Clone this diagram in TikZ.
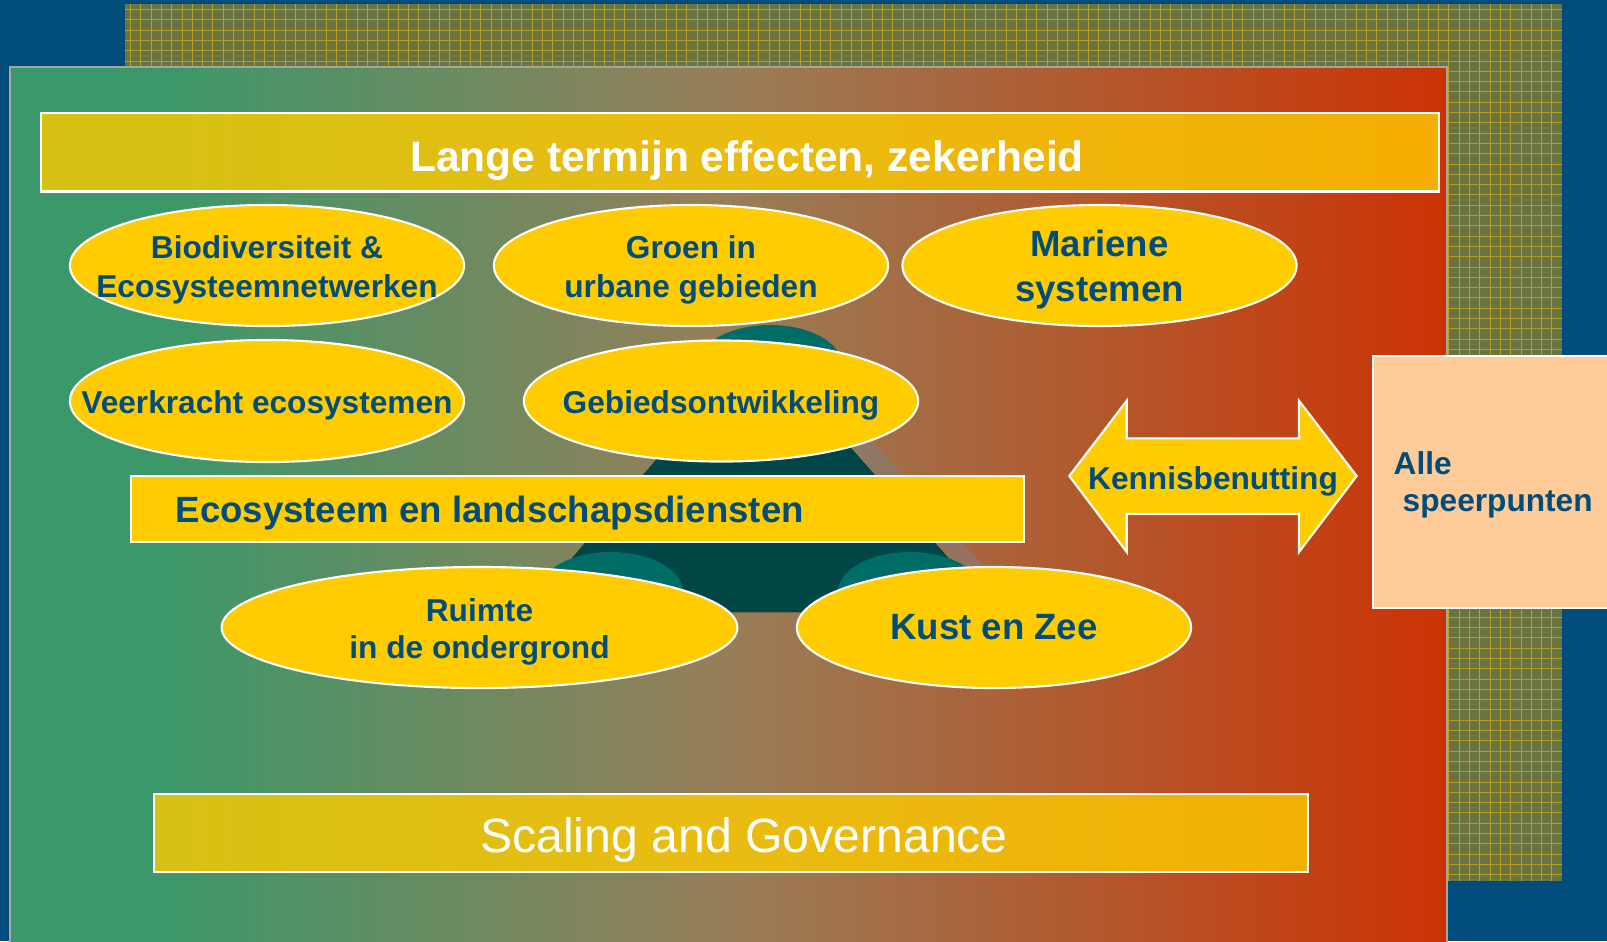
\documentclass[tikz,border=0pt]{standalone}
\usepackage{fontspec}
\setmainfont{Liberation Sans}
\usetikzlibrary{shapes.geometric}

\definecolor{deepblue}{RGB}{0,76,122}
\definecolor{mossgrid}{RGB}{106,116,62}
\definecolor{gridgold}{RGB}{180,160,40}
\definecolor{fieldgreen}{RGB}{58,152,106}
\definecolor{fieldbrown}{RGB}{152,126,88}
\definecolor{fieldred}{RGB}{204,51,4}
\definecolor{sunyellow}{RGB}{255,204,0}
\definecolor{peach}{RGB}{255,204,153}
\definecolor{tealdark}{RGB}{0,70,70}
\definecolor{teallight}{RGB}{0,108,102}
\definecolor{inkblue}{RGB}{0,76,122}
\definecolor{panelgray}{RGB}{165,165,165}

%green to red field behind the themes
\pgfdeclarehorizontalshading{fieldshade}{100bp}{color(0bp)=(fieldgreen); color(25bp)=(fieldgreen); color(30bp)=(fieldgreen); color(50bp)=(fieldbrown); color(75bp)=(fieldred); color(100bp)=(fieldred)}

\begin{document}
\begin{tikzpicture}[x=0.01cm, y=-0.01cm,
	theme/.style={ellipse, draw=white, line width=0.6pt, fill=sunyellow, inner sep=0pt, minimum width=3.94cm, minimum height=1.21cm},
	themetext/.style={text=inkblue, font=\bfseries\fontsize{9}{11.1}\selectfont, align=center, inner sep=0pt},
	bigtext/.style={themetext, font=\bfseries\fontsize{10.4}{12.6}\selectfont},
	banner/.style={draw=white, line width=0.6pt, fill=sunyellow, fill opacity=0.8, inner sep=0pt},
	bannertext/.style={text=white, inner sep=0pt, anchor=base}]

		%background
		\useasboundingbox (0,0) rectangle (1607,941);
		\fill[deepblue] (0,0) rectangle (1607,941);

		%hatched back panel
		\fill[mossgrid] (125,4) rectangle (1562,881);
		\foreach \gx in {130.5,140.8,...,1562}
		\draw[gridgold, line width=0.25pt] (\gx,4) -- (\gx,881);
		\foreach \gy in {9.5,19.8,...,881}
		\draw[gridgold, line width=0.25pt] (125,\gy) -- (1562,\gy);

		%main panel
		\draw[panelgray, line width=0.5pt, shading=fieldshade] (10,67) rectangle (1447,960);

		%top and bottom banners
		\node[banner, minimum width=13.98cm, minimum height=0.785cm] (lange) at (740,152.25) {};
		\node[bannertext, font=\bfseries\fontsize{12.1}{14}\selectfont] (langetxt) at (747,171.5) {Lange termijn effecten, zekerheid};
		\node[banner, minimum width=11.54cm, minimum height=0.78cm] (scaling) at (731,833) {};
		\node[bannertext, font=\fontsize{13.7}{16}\selectfont] (scalingtxt) at (744,852) {Scaling and Governance};

		%teal pyramid with shadow
		\fill[gray, opacity=0.5] (785,342) -- (1024,612) -- (554,612) -- cycle;
		\fill[left color=tealdark, middle color=teallight, right color=tealdark] (757,342) -- (996,612) -- (526,612) -- cycle;
		\fill[teallight] (770,365) ellipse [x radius=0.72cm, y radius=0.40cm];
		\fill[teallight] (611,592) ellipse [x radius=0.72cm, y radius=0.40cm];
		\fill[teallight] (910,592) ellipse [x radius=0.72cm, y radius=0.40cm];

		%themes
		\node[theme] (bio) at (267,265.5) {};
		\node[themetext, yshift=-0.04cm] (biotxt) at (bio) {Biodiversiteit \&\\Ecosysteemnetwerken};
		\node[theme] (groen) at (691,265.5) {};
		\node[themetext, yshift=-0.04cm] (groentxt) at (groen) {Groen in\\urbane gebieden};
		\node[theme] (mariene) at (1099.5,265.5) {};
		\node[bigtext, yshift=-0.04cm] (marienetxt) at (mariene) {Mariene\\systemen};
		\node[theme, minimum height=1.22cm] (veer) at (267,401) {};
		\node[themetext, yshift=-0.04cm] (veertxt) at (veer) {Veerkracht ecosystemen};
		\node[theme] (gebied) at (721,401) {};
		\node[themetext, yshift=-0.04cm] (gebiedtxt) at (gebied) {Gebiedsontwikkeling};

		%services bar
		\node[rectangle, draw=white, line width=0.6pt, fill=sunyellow, minimum width=8.93cm, minimum height=0.66cm, inner sep=0pt] (diensten) at (577.5,509) {};
		\node[bigtext, anchor=base west] (dienstentxt) at (175,522) {Ecosysteem en landschapsdiensten};

		\node[theme, minimum width=5.155cm] (ruimte) at (479.5,627.5) {};
		\node[themetext, yshift=-0.04cm, font=\bfseries\fontsize{9}{10.6}\selectfont] (ruimtetxt) at (ruimte) {Ruimte\\in de ondergrond};
		\node[theme] (kust) at (994,627.5) {};
		\node[bigtext] (kusttxt) at (kust) {Kust en Zee};

		%double arrow
		\filldraw[fill=sunyellow, draw=white, line width=0.6pt] (1069.3,476) -- (1126.7,400.7) -- (1126.7,438.3) -- (1299,438.3) -- (1299,400.7) -- (1356.7,476) -- (1299,552) -- (1299,514) -- (1126.7,514) -- (1126.7,552) -- cycle;
		\node[themetext, anchor=base] (kennis) at (1213,489) {Kennisbenutting};

		%all spearheads
		\node[rectangle, draw=white, line width=0.6pt, fill=peach, minimum width=2.48cm, minimum height=2.517cm, inner sep=0pt, anchor=north west] (alle) at (1371.7,355) {};
		\node[themetext, align=left, anchor=west, font=\bfseries\fontsize{9}{10.7}\selectfont] (alletxt) at (1393,484.7) {Alle\\\hspace*{0.09cm}speerpunten};
\end{tikzpicture}
\end{document}
